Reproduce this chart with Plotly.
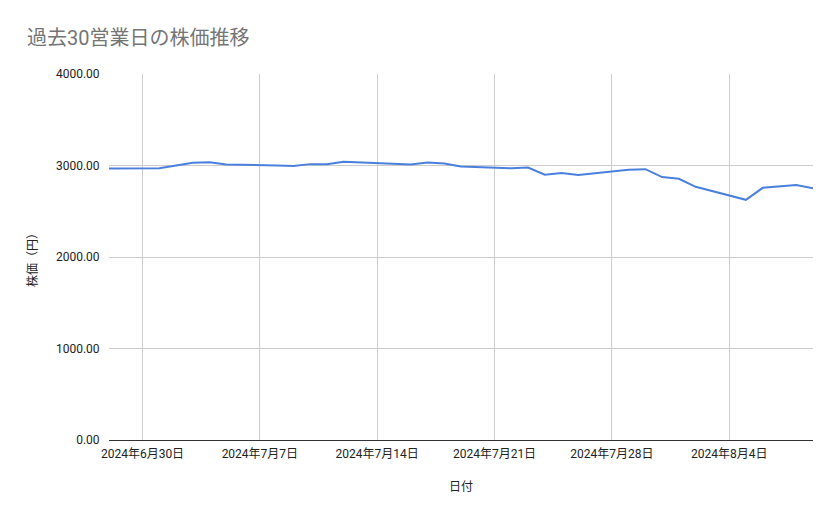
import plotly.graph_objects as go

dates = ["2024-06-28", "2024-07-01", "2024-07-02", "2024-07-03", "2024-07-04", "2024-07-05",
         "2024-07-08", "2024-07-09", "2024-07-10", "2024-07-11", "2024-07-12",
         "2024-07-16", "2024-07-17", "2024-07-18", "2024-07-19",
         "2024-07-22", "2024-07-23", "2024-07-24", "2024-07-25", "2024-07-26",
         "2024-07-29", "2024-07-30", "2024-07-31", "2024-08-01", "2024-08-02",
         "2024-08-05", "2024-08-06", "2024-08-07", "2024-08-08", "2024-08-09"]
prices = [2967, 2970, 3000, 3030, 3035, 3010,
          3000, 2995, 3015, 3015, 3042,
          3012, 3032, 3022, 2990,
          2970, 2978, 2900, 2918, 2896,
          2953, 2960, 2873, 2855, 2767,
          2625, 2756, 2775, 2787, 2750]

x_tick_vals = ["2024-06-30", "2024-07-07", "2024-07-14", "2024-07-21", "2024-07-28", "2024-08-04"]
x_tick_text = ["2024年6月30日", "2024年7月7日", "2024年7月14日", "2024年7月21日", "2024年7月28日", "2024年8月4日"]
y_tick_vals = [0, 1000, 2000, 3000, 4000]

title_text = "過去30営業日の株価推移"
x_title = "日付"
y_title = "株価（円）"

FONT = "Roboto, 'Noto Sans CJK JP', sans-serif"
W, H = 839, 519
OFF = 8  # page body margin

fig = go.Figure()
fig.add_trace(go.Scatter(
    x=dates, y=prices, mode="lines",
    line=dict(color="#4A80DC", width=2),
    showlegend=False,
))

fig.update_layout(
    width=W, height=H,
    paper_bgcolor="white", plot_bgcolor="white",
    margin=dict(l=109 - OFF, r=26 + OFF, t=74 - OFF, b=79 + OFF),
    font=dict(family=FONT, size=12, color="#222222"),
    title=dict(text=title_text, x=(27 - OFF) / W, xanchor="left", y=1 - (38 - OFF) / H, yanchor="middle",
               font=dict(family=FONT, size=20, color="#757575")),
)
fig.update_xaxes(
    type="date",
    range=["2024-06-28", "2024-08-09"],
    tickmode="array", tickvals=x_tick_vals, ticktext=x_tick_text,
    showgrid=True, gridcolor="#CCCCCC", gridwidth=1,
    showline=True, linecolor="#333333", linewidth=1,
    ticks="outside", ticklen=3, tickcolor="rgba(0,0,0,0)",
    tickfont=dict(size=12, color="#222222"),
    title=dict(text=x_title, font=dict(size=12, color="#222222"), standoff=22),
    zeroline=False,
)
fig.update_yaxes(
    range=[0, 4000],
    tickmode="array", tickvals=y_tick_vals, tickformat=".2f",
    showgrid=True, gridcolor="#CCCCCC", gridwidth=1,
    ticks="outside", ticklen=6, tickcolor="rgba(0,0,0,0)",
    tickfont=dict(size=12, color="#222222"),
    title=dict(text=y_title, font=dict(size=12, color="#222222"), standoff=15),
    zeroline=False,
)

fig.write_html("out.html")
